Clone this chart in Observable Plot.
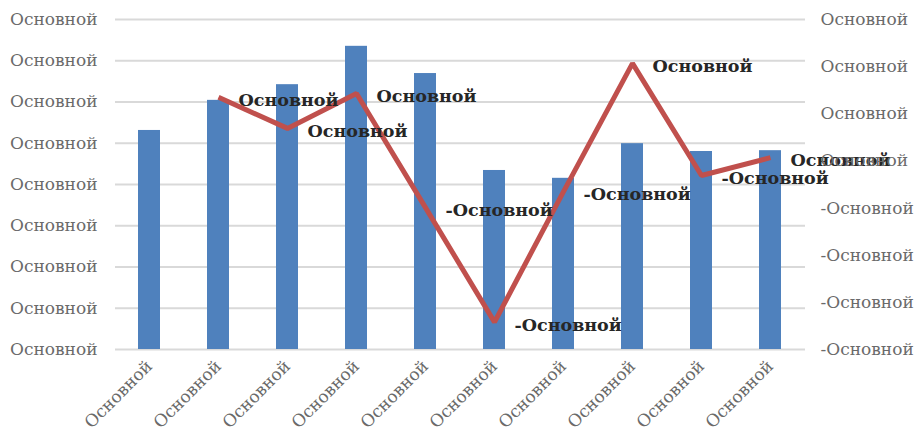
<!DOCTYPE html>
<html>
<head>
<meta charset="utf-8">
<script src="https://cdn.jsdelivr.net/npm/d3@7"></script>
<script src="https://cdn.jsdelivr.net/npm/@observablehq/plot@0.6"></script>
<style>
  html, body { margin: 0; padding: 0; background: #fff; }
</style>
</head>
<body>
<div id="chart"></div>
<script>
// ---- data ----
const categories = [1, 2, 3, 4, 5, 6, 7, 8, 9, 10];
const xTickLabels = ["Основной", "Основной", "Основной", "Основной", "Основной",
                     "Основной", "Основной", "Основной", "Основной", "Основной"];
const barValues = [5.31, 6.04, 6.42, 7.35, 6.69, 4.34, 4.15, 4.99, 4.80, 4.82];
const lineValues = [null, 1.35, 0.69, 1.43, -0.99, -3.42, -0.65, 2.07, -0.31, 0.07];
const lineLabels = [null, "Основной", "Основной", "Основной", "-Основной",
                    "-Основной", "-Основной", "Основной", "-Основной", "Основной"];
const leftTicks = [0, 1, 2, 3, 4, 5, 6, 7, 8];
const leftTickLabels = ["Основной", "Основной", "Основной", "Основной", "Основной",
                        "Основной", "Основной", "Основной", "Основной"];
const rightTicks = [-4, -3, -2, -1, 0, 1, 2, 3];
const rightTickLabels = ["-Основной", "-Основной", "-Основной", "-Основной",
                         "Основной", "Основной", "Основной", "Основной"];

// secondary axis [-4, 3] mapped onto primary axis [0, 8]
const leftMin = 0, leftMax = 8, rightMin = -4, rightMax = 3;
const toLeft = v => (v - rightMin) * (leftMax - leftMin) / (rightMax - rightMin) + leftMin;

const bars = categories.map((c, i) => ({cat: c, value: barValues[i]}));
const linePts = categories.map((c, i) => ({cat: c, value: lineValues[i], label: lineLabels[i]}))
  .filter(d => d.value != null)
  .map(d => ({...d, y: toLeft(d.value)}));
const rightTickPos = rightTicks.map(toLeft);

const font = "'DejaVu Serif', 'Liberation Serif', serif";

const chart = Plot.plot({
  width: 922,
  height: 438,
  marginLeft: 115,
  marginRight: 117,
  marginTop: 19,
  marginBottom: 89,
  style: {fontFamily: font, fontSize: "17px", color: "#6a6a6a", background: "#fff"},
  x: {type: "band", domain: categories, paddingInner: 0.68, paddingOuter: 0.34},
  y: {domain: [leftMin, leftMax]},
  marks: [
    Plot.gridY(leftTicks, {stroke: "#d9d9d9", strokeOpacity: 1, strokeWidth: 2}),
    Plot.barY(bars, {x: "cat", y: "value", fill: "#4f81bd"}),
    Plot.line(linePts, {x: "cat", y: "y", stroke: "#c0504d", strokeWidth: 5, strokeLinejoin: "miter", strokeLinecap: "butt"}),
    Plot.text(linePts, {x: "cat", y: "y", text: "label", textAnchor: "start", dx: 20, dy: 3,
      fill: "#262626", fontSize: 17.5, fontWeight: "bold", fontFamily: font}),
    Plot.axisY({ticks: leftTicks, anchor: "left", tickSize: 0, tickPadding: 18,
      tickFormat: d => leftTickLabels[leftTicks.indexOf(d)], label: null}),
    Plot.axisY({ticks: rightTickPos, anchor: "right", tickSize: 0, tickPadding: 15,
      tickFormat: d => rightTickLabels[rightTickPos.findIndex(p => Math.abs(p - d) < 1e-9)], label: null}),
    Plot.axisX({tickRotate: -45, tickSize: 0, tickPadding: 14,
      tickFormat: d => xTickLabels[categories.indexOf(d)], label: null})
  ]
});
document.getElementById("chart").appendChild(chart);
</script>
</body>
</html>
